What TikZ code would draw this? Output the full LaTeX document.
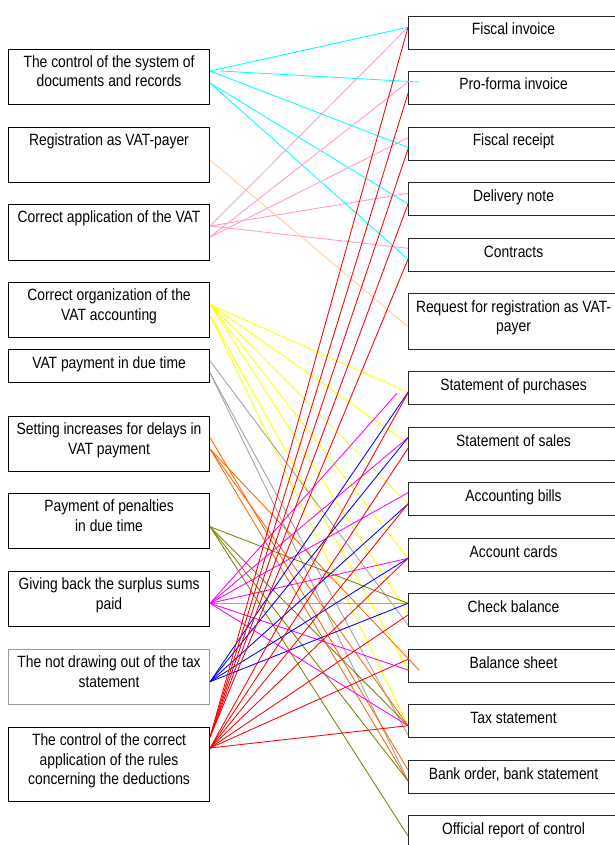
\documentclass[tikz,border=0pt]{standalone}
\usepackage{fontspec}
\setmainfont{Liberation Sans}[FakeStretch=0.85]
\usetikzlibrary{calc}
\definecolor{cCyan}{RGB}{0,255,255}
\definecolor{cPink}{RGB}{255,153,204}
\definecolor{cPeach}{RGB}{255,204,153}
\definecolor{cYellow}{RGB}{255,255,0}
\definecolor{cGray}{RGB}{160,160,160}
\definecolor{cOrange}{RGB}{255,102,0}
\definecolor{cOlive}{RGB}{128,128,0}
\definecolor{cMagenta}{RGB}{255,0,255}
\definecolor{cBlue}{RGB}{0,0,255}
\definecolor{cRed}{RGB}{255,0,0}
\newcommand{\boxtext}[1]{\begin{tabular}[t]{@{}c@{}}#1\end{tabular}}
\tikzset{
  lbox/.style={draw=black, line width=1.1pt, minimum width=201pt, minimum height=#1, anchor=north west, inner sep=0pt},
  rbox/.style={draw=black!85, line width=1.1pt, minimum width=210pt, minimum height=33pt, anchor=north west, inner sep=0pt},
  lbl/.style={anchor=base, inner sep=0pt, font=\fontsize{16.3}{19.5}\selectfont},
  conn/.style={line width=0.85pt},
}
\begin{document}
\begin{tikzpicture}[x=1pt,y=-1pt]
\useasboundingbox (0,0) rectangle (615,845);
% left boxes
\node[lbox=55pt] (L1) at (8,49) {};
\node[lbox=55pt] (L2) at (8,127) {};
\node[lbox=56pt] (L3) at (8,204) {};
\node[lbox=55pt] (L4) at (8,282) {};
\node[lbox=33pt] (L5) at (8,349) {};
\node[lbox=55pt] (L6) at (8,416) {};
\node[lbox=55pt] (L7) at (8,493) {};
\node[lbox=55pt] (L8) at (8,571) {};
\node[lbox=55pt, draw=black!40] (L9) at (8,649) {};
\node[lbox=74pt] (L10) at (8,727) {};
% right boxes
\node[rbox] (R1) at (408,16) {};
\node[rbox] (R2) at (408,71) {};
\node[rbox] (R3) at (408,127) {};
\node[rbox] (R4) at (408,182) {};
\node[rbox] (R5) at (408,238) {};
\node[rbox, minimum height=56pt] (R6) at (408,293) {};
\node[rbox] (R7) at (408,371) {};
\node[rbox] (R8) at (408,427) {};
\node[rbox] (R9) at (408,482) {};
\node[rbox] (R10) at (408,538) {};
\node[rbox] (R11) at (408,593) {};
\node[rbox] (R12) at (408,649) {};
\node[rbox] (R13) at (408,704) {};
\node[rbox] (R14) at (408,760) {};
\node[rbox] (R15) at (408,815) {};
% texts
\node[lbl] (L1t) at ($(L1.north)+(0,18.5)$) {\boxtext{The control of the system of\\documents and records}};
\node[lbl] (L2t) at ($(L2.north)+(0,19)$) {\boxtext{Registration as VAT-payer}};
\node[lbl] (L3t) at ($(L3.north)+(0,18.5)$) {\boxtext{Correct application of the VAT}};
\node[lbl] (L4t) at ($(L4.north)+(0,18.5)$) {\boxtext{Correct organization of the\\VAT accounting}};
\node[lbl] (L5t) at ($(L5.north)+(0,19)$) {\boxtext{VAT payment in due time}};
\node[lbl] (L6t) at ($(L6.north)+(0,18.5)$) {\boxtext{Setting increases for delays in\\VAT payment}};
\node[lbl] (L7t) at ($(L7.north)+(0,18.5)$) {\boxtext{Payment of penalties\\in due time}};
\node[lbl] (L8t) at ($(L8.north)+(0,18.5)$) {\boxtext{Giving back the surplus sums\\paid}};
\node[lbl] (L9t) at ($(L9.north)+(0,18.5)$) {\boxtext{The not drawing out of the tax\\statement}};
\node[lbl] (L10t) at ($(L10.north)+(0,18.5)$) {\boxtext{The control of the correct\\application of the rules\\concerning the deductions}};
\node[lbl] (R1t) at ($(R1.north)+(0,19)$) {\boxtext{Fiscal invoice}};
\node[lbl] (R2t) at ($(R2.north)+(0,19)$) {\boxtext{Pro-forma invoice}};
\node[lbl] (R3t) at ($(R3.north)+(0,19)$) {\boxtext{Fiscal receipt}};
\node[lbl] (R4t) at ($(R4.north)+(0,19)$) {\boxtext{Delivery note}};
\node[lbl] (R5t) at ($(R5.north)+(0,19)$) {\boxtext{Contracts}};
\node[lbl] (R6t) at ($(R6.north)+(0,19)$) {\boxtext{Request for registration as VAT-\\payer}};
\node[lbl] (R7t) at ($(R7.north)+(0,19)$) {\boxtext{Statement of purchases}};
\node[lbl] (R8t) at ($(R8.north)+(0,19)$) {\boxtext{Statement of sales}};
\node[lbl] (R9t) at ($(R9.north)+(0,19)$) {\boxtext{Accounting bills}};
\node[lbl] (R10t) at ($(R10.north)+(0,19)$) {\boxtext{Account cards}};
\node[lbl] (R11t) at ($(R11.north)+(0,19)$) {\boxtext{Check balance}};
\node[lbl] (R12t) at ($(R12.north)+(0,19)$) {\boxtext{Balance sheet}};
\node[lbl] (R13t) at ($(R13.north)+(0,19)$) {\boxtext{Tax statement}};
\node[lbl] (R14t) at ($(R14.north)+(0,19)$) {\boxtext{Bank order, bank statement}};
\node[lbl] (R15t) at ($(R15.north)+(0,19)$) {\boxtext{Official report of control}};
% cyan
\draw[conn,cCyan] ($(L1.north east)+(0,22)$) -- ($(R1.north west)+(0,11.3)$);
\draw[conn,cCyan] ($(L1.north east)+(10,22)$) -- ($(R2.north west)+(11,11)$);
\draw[conn,cCyan] ($(L1.north east)+(0,22)$) -- ($(R3.north west)+(0,20.3)$);
\draw[conn,cCyan] ($(L1.north east)+(0,34)$) -- ($(R4.north west)+(0,22)$);
\draw[conn,cCyan] ($(L1.north east)+(0,34)$) -- ($(R5.north west)+(0,21.3)$);
% pink
\draw[conn,cPink] ($(L3.north east)+(0,22)$) -- ($(R1.north west)+(0,11.3)$);
\draw[conn,cPink] ($(L3.north east)+(0,33)$) -- ($(R2.north west)+(0,11)$);
\draw[conn,cPink] ($(L3.north east)+(0,33)$) -- ($(R3.north west)+(0,10.7)$);
\draw[conn,cPink] ($(L3.north east)+(0,22)$) -- ($(R4.north west)+(0,11.3)$);
\draw[conn,cPink] ($(L3.north east)+(0,22)$) -- ($(R5.north west)+(0,10.3)$);
% peach
\draw[conn,cPeach] ($(L2.north east)+(0,33)$) -- ($(R6.north west)+(0,33.7)$);
% yellow
\draw[conn,cYellow] ($(L4.north east)+(0,22.5)$) -- ($(R7.north west)+(0,21.3)$);
\draw[conn,cYellow] ($(L4.north east)+(0,22.5)$) -- ($(R8.north west)+(0,16.3)$);
\draw[conn,cYellow] ($(L4.north east)+(0,22.5)$) -- ($(R9.north west)+(0,21.3)$);
\draw[conn,cYellow] ($(L4.north east)+(0,22.5)$) -- ($(R10.north west)+(0,20.3)$);
\draw[conn,cYellow] ($(L4.north east)+(0,22.5)$) -- ($(R11.north west)+(0,20.3)$);
\draw[conn,cYellow] ($(L4.north east)+(0,33.5)$) -- ($(R12.north west)+(0,20.5)$);
\draw[conn,cYellow] ($(L4.north east)+(0,33.5)$) -- ($(R13.north west)+(0,21.7)$);
% gray
\draw[conn,cGray] ($(L5.north east)+(0,12)$) -- ($(R11.north west)+(0,32)$);
\draw[conn,cGray] ($(L5.north east)+(0,24)$) -- ($(R13.north west)+(0,31)$);
\draw[conn,cGray] ($(L5.north east)+(0,24)$) -- ($(R14.north west)+(0,20.5)$);
% orange
\draw[conn,cOrange] ($(L6.north east)+(0,21.7)$) -- ($(R14.north west)+(0,10)$);
\draw[conn,cOrange] ($(L6.north east)+(0,33)$) -- ($(R12.north west)+(11,21)$);
\draw[conn,cOrange] ($(L6.north east)+(0,33)$) -- ($(R13.north west)+(0,21.7)$);
\draw[conn,cOrange] ($(L6.north east)+(0,33)$) -- ($(R14.north west)+(0,21)$);
% olive
\draw[conn,cOlive] ($(L7.north east)+(0,33.7)$) -- ($(R11.north west)+(0,10.3)$);
\draw[conn,cOlive] ($(L7.north east)+(0,33.7)$) -- ($(R13.north west)+(0,21.7)$);
\draw[conn,cOlive] ($(L7.north east)+(0,33.7)$) -- ($(R14.north west)+(0,21)$);
\draw[conn,cOlive] ($(L7.north east)+(0,33.7)$) -- ($(R15.north west)+(0,21)$);
% magenta
\draw[conn,cMagenta] ($(L8.north east)+(0,32.3)$) -- ($(R7.north west)+(-11,22.3)$);
\draw[conn,cMagenta] ($(L8.north east)+(0,32.3)$) -- ($(R8.north west)+(0,10.7)$);
\draw[conn,cMagenta] ($(L8.north east)+(0,32.3)$) -- ($(R9.north west)+(0,10.7)$);
\draw[conn,cMagenta] ($(L8.north east)+(0,32.3)$) -- ($(R10.north west)+(0,20.3)$);
\draw[line width=1.6pt,cMagenta!60] ($(L8.north east)+(0,32.3)$) -- ($(R11.north west)+(0,10.3)$);
\draw[conn,cMagenta] ($(L8.north east)+(0,32.3)$) -- ($(R12.north west)+(0,21)$);
\draw[conn,cMagenta] ($(L8.north east)+(0,32.3)$) -- ($(R13.north west)+(0,21.7)$);
% blue
\draw[conn,cBlue] ($(L9.north east)+(0,32.7)$) -- ($(R7.north west)+(0,21.3)$);
\draw[conn,cBlue] ($(L9.north east)+(0,32.7)$) -- ($(R8.north west)+(0,10.7)$);
\draw[conn,cBlue] ($(L9.north east)+(0,32.7)$) -- ($(R9.north west)+(0,22)$);
\draw[conn,cBlue] ($(L9.north east)+(0,32.7)$) -- ($(R10.north west)+(0,20.3)$);
\draw[conn,cBlue] ($(L9.north east)+(0,32.7)$) -- ($(R11.north west)+(0,10.3)$);
% red
\draw[conn,cRed] ($(L10.north east)+(0,10)$) -- ($(R1.north west)+(0,11.3)$);
\draw[conn,cRed] ($(L10.north east)+(0,10)$) -- ($(R2.north west)+(0,22.3)$);
\draw[conn,cRed] ($(L10.north east)+(0,10)$) -- ($(R3.north west)+(0,22)$);
\draw[conn,cRed] ($(L10.north east)+(0,10)$) -- ($(R4.north west)+(0,22)$);
\draw[conn,cRed] ($(L10.north east)+(0,10)$) -- ($(R5.north west)+(0,21.3)$);
\draw[conn,cRed] ($(L10.north east)+(0,21)$) -- ($(R7.north west)+(0,22)$);
\draw[conn,cRed] ($(L10.north east)+(0,21)$) -- ($(R8.north west)+(0,21.3)$);
\draw[conn,cRed] ($(L10.north east)+(0,21)$) -- ($(R9.north west)+(0,22)$);
\draw[conn,cRed] ($(L10.north east)+(0,21)$) -- ($(R10.north west)+(0,20.3)$);
\draw[conn,cRed] ($(L10.north east)+(0,21)$) -- ($(R11.north west)+(0,22)$);
\draw[conn,cRed] ($(L10.north east)+(0,21)$) -- ($(R12.north west)+(0,10.3)$);
\draw[conn,cRed] ($(L10.north east)+(0,21)$) -- ($(R13.north west)+(0,21.7)$);
\end{tikzpicture}
\end{document}
